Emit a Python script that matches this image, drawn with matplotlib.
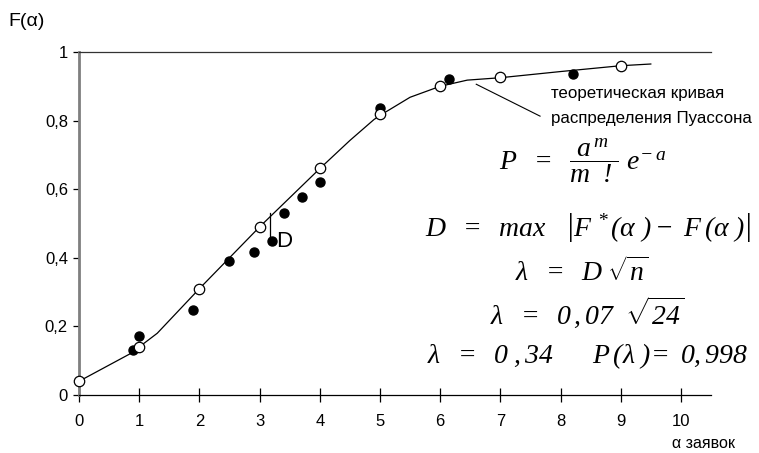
import matplotlib.pyplot as plt
import matplotlib.ticker as ticker

plt.rcParams['font.family'] = ['Liberation Sans', 'DejaVu Sans']
plt.rcParams['mathtext.fontset'] = 'custom'
plt.rcParams['mathtext.rm'] = 'Liberation Serif:italic'
plt.rcParams['mathtext.it'] = 'Liberation Serif:italic'
plt.rcParams['mathtext.bf'] = 'Liberation Serif:bold'

# theoretical Poisson curve
curve_x = [0, 0.9, 1, 1.3, 2, 3, 4, 4.5, 4.9, 5, 5.5, 6, 6.45, 7, 8, 9, 9.5]
curve_y = [0.04, 0.125, 0.14, 0.18, 0.31, 0.49, 0.66, 0.742, 0.803, 0.815,
           0.868, 0.90, 0.918, 0.925, 0.943, 0.96, 0.965]

# theoretical points (open circles)
theo_x = [0, 1, 2, 3, 4, 5, 6, 7, 9]
theo_y = [0.04, 0.14, 0.31, 0.49, 0.662, 0.818, 0.90, 0.927, 0.96]

# empirical points (filled)
emp_x = [0.9, 1.0, 1.9, 2.5, 2.9, 3.2, 3.4, 3.7, 4.0, 5.0, 6.15, 8.2]
emp_y = [0.13, 0.172, 0.248, 0.39, 0.417, 0.449, 0.531, 0.578, 0.62, 0.838, 0.92, 0.935]

x_ticks = list(range(11))
y_ticks = [0, 0.2, 0.4, 0.6, 0.8, 1.0]
y_labels = ['0', '0,2', '0,4', '0,6', '0,8', '1']

fig = plt.figure(figsize=(7.59, 4.53), dpi=100)
ax = fig.add_axes([79 / 759, 58 / 453, 632 / 759, 343 / 453])

ax.plot(curve_x, curve_y, color='black', linewidth=0.9, clip_on=False, zorder=2)
ax.plot(emp_x, emp_y, 'o', color='black', markersize=6.5, clip_on=False, zorder=3)
ax.plot(theo_x, theo_y, 'o', markerfacecolor='white', markeredgecolor='black',
        markeredgewidth=0.9, markersize=7.5, clip_on=False, zorder=4)

# D segment
ax.plot([3.17, 3.17], [0.455, 0.53], color='black', linewidth=0.9)
ax.text(3.27, 0.448, 'D', fontsize=16, va='center', ha='left')

# pointer to the curve
ax.plot([6.6, 7.66], [0.906, 0.813], color='black', linewidth=0.8, clip_on=False)
ax.text(7.85, 0.88, 'теоретическая кривая', fontsize=12.2, va='center', ha='left')
ax.text(7.85, 0.807, 'распределения Пуассона', fontsize=12.2, va='center', ha='left')

ax.set_xlim(0, 10.5)
ax.set_ylim(0, 1)
ax.xaxis.set_major_locator(ticker.FixedLocator(x_ticks))
ax.set_yticks(y_ticks)
ax.set_yticklabels(y_labels)
ax.tick_params(axis='x', direction='inout', length=9.5, width=0.9, labelsize=12, pad=9)
ax.tick_params(axis='y', direction='out', length=4, width=0.9, labelsize=12, pad=4)

ax.spines['right'].set_visible(False)
ax.spines['left'].set_color('#7f7f7f')
ax.spines['left'].set_linewidth(2)
ax.spines['top'].set_color('#333333')
ax.spines['top'].set_linewidth(0.9)
ax.spines['bottom'].set_linewidth(0.9)

fig.text(8 / 759, 1 - 22 / 453, 'F(α)', fontsize=14, va='center', ha='left')
fig.text(672 / 759, 1 - 444 / 453, 'α заявок', fontsize=11.5, va='center', ha='left')

# formulas
fs = 20
fig.text(583 / 759, 1 - 161 / 453, r'$P\ \ =\ \ \dfrac{a^{\,m}}{m\ \ !}\ e^{-\,a}$',
         fontsize=fs, ha='center', va='center')
fig.text(588 / 759, 1 - 228 / 453,
         r'$D\ \ =\ \ max\ \ \ \left|F^{\,*}(\alpha\ )-\ F\,(\alpha\ )\right|$',
         fontsize=fs, ha='center', va='center')
fig.text(582 / 759, 1 - 272 / 453, r'$\lambda\ \ =\ \ D\ \sqrt{n}$',
         fontsize=fs, ha='center', va='center')
fig.text(587 / 759, 1 - 312 / 453, r'$\lambda\ \ =\ \ 0\,,07\ \ \sqrt{24}$',
         fontsize=fs, ha='center', va='center')
fig.text(588 / 759, 1 - 356 / 453,
         r'$\lambda\ \ =\ \ 0\ ,34\qquad P\,(\lambda\ )\!=\ 0,998$',
         fontsize=fs, ha='center', va='center')

fig.savefig('out.png', dpi=100)
